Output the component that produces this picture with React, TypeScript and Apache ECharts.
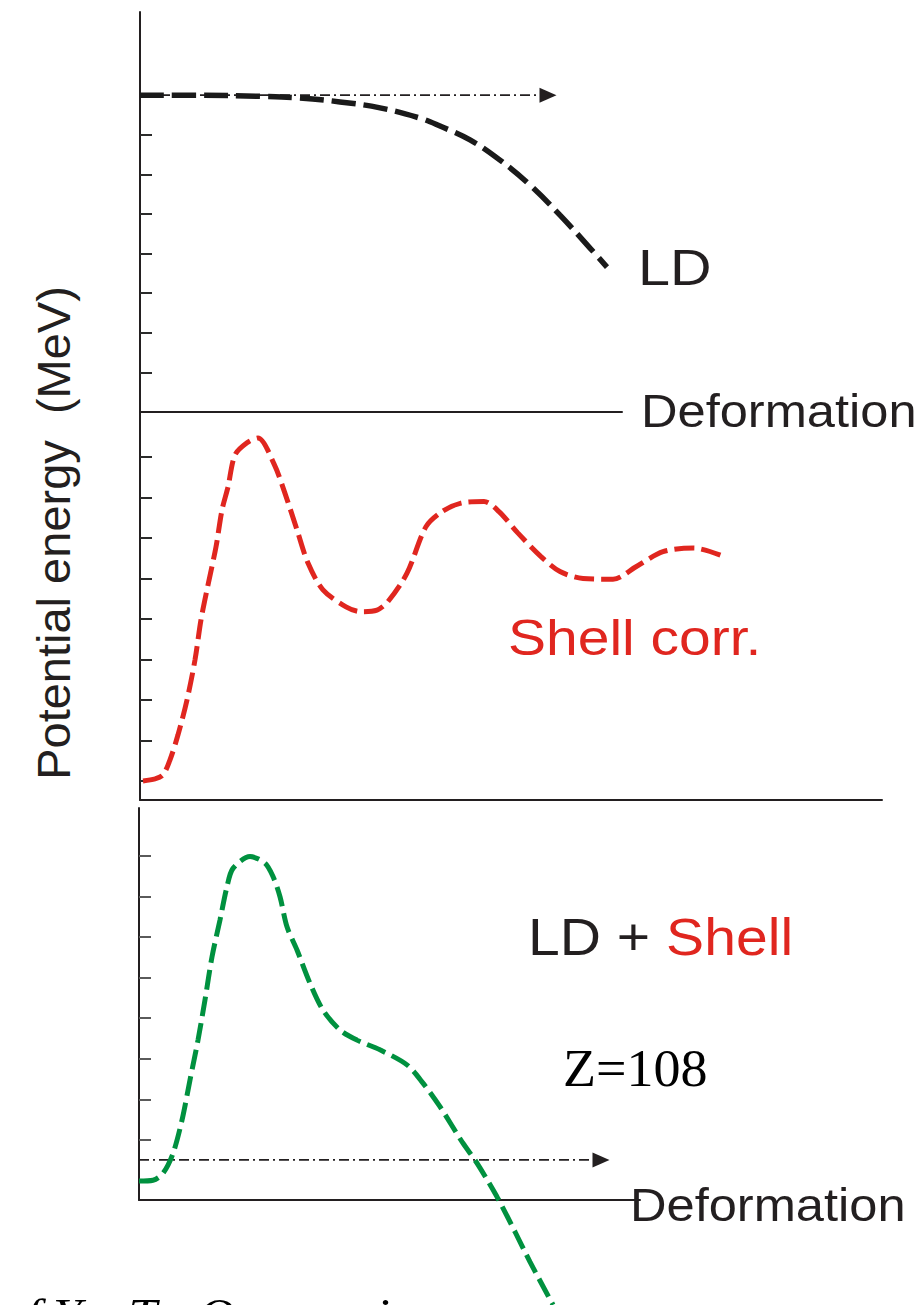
import React, { useEffect, useRef } from "react";
import * as echarts from "echarts";

// Deformation coordinate (arb. units) and potential energy (tick units) per panel.

// Panel 1 — liquid-drop (LD) energy
const ldX = [0, 0.6, 1.2, 1.6, 2.0, 2.4, 2.8, 3.0, 3.3, 3.6, 3.9, 4.2, 4.5, 4.67];
const ldY = [8.0, 8.0, 7.97, 7.93, 7.83, 7.68, 7.42, 7.22, 6.87, 6.36, 5.73, 4.97, 4.14, 3.66];
const ldRefX = [0, 4.08];
const ldRefY = [8.0, 8.0];

// Panel 2 — shell correction
const shellX = [
  0.03, 0.15, 0.23, 0.3, 0.38, 0.47, 0.55, 0.61, 0.68, 0.76, 0.82, 0.88, 0.95, 1.07, 1.18,
  1.34, 1.45, 1.57, 1.68, 1.83, 2.06, 2.21, 2.37, 2.48, 2.67, 2.86, 3.02, 3.21, 3.44, 3.59,
  3.78, 4.01, 4.2, 4.43, 4.73, 4.96, 5.23, 5.54, 5.84,
];
const shellY = [
  0.0, 0.05, 0.15, 0.52, 1.14, 2.0, 2.99, 3.98, 4.84, 5.78, 6.69, 7.26, 8.05, 8.35, 8.47,
  7.83, 7.1, 6.2, 5.38, 4.72, 4.3, 4.18, 4.22, 4.43, 5.13, 6.28, 6.65, 6.86, 6.9, 6.65,
  6.12, 5.54, 5.17, 5.0, 4.98, 5.29, 5.66, 5.75, 5.54,
];

// Panel 3 — LD + shell (Z = 108)
const totX = [
  0, 0.14, 0.24, 0.34, 0.43, 0.51, 0.59, 0.66, 0.73, 0.81, 0.88, 0.94, 1.11, 1.26, 1.34,
  1.41, 1.48, 1.58, 1.71, 1.84, 2.01, 2.18, 2.41, 2.68, 2.84, 3.01, 3.24, 3.38, 3.58, 3.76,
  3.91, 4.14,
];
const totY = [
  -1.01, -0.99, -0.82, -0.33, 0.49, 1.48, 2.46, 3.45, 4.51, 5.42, 6.24, 6.69, 6.98, 6.82, 6.49,
  5.99, 5.25, 4.68, 3.86, 3.2, 2.71, 2.46, 2.22, 1.85, 1.4, 0.82, -0.08, -0.57, -1.4, -2.26,
  -3.0, -4.06,
];
const totRefX = [0, 4.62];
const totRefY = [-0.49, -0.49];

// Tick positions on each energy axis
const ticks1 = [1, 2, 3, 4, 5, 6, 7, 8];
const ticks2 = [0, 1, 2, 3, 4, 5, 6, 7, 8];
const ticks3 = [0, 1, 2, 3, 4, 5, 6, 7];

const INK = "#231f20";
const RED = "#e0261f";
const GREEN = "#00913f";
const SANS = "'Liberation Sans', Arial, sans-serif";
const SERIF = "'Liberation Serif', 'Times New Roman', serif";

const pairs = (xs: number[], ys: number[]) => xs.map((x, i) => [x, ys[i]]);

const refLine = (xs: number[], ys: number[], idx: number) => ({
  type: "line",
  xAxisIndex: idx,
  yAxisIndex: idx,
  silent: true,
  z: 3,
  data: pairs(xs, ys).map((p, i, arr) =>
    i === arr.length - 1
      ? { value: p, symbol: "triangle", symbolRotate: -90, symbolSize: [15, 17] }
      : { value: p, symbol: "none" }
  ),
  showSymbol: true,
  itemStyle: { color: INK },
  lineStyle: { color: INK, width: 1.6, type: [10, 4, 2, 4] },
});

function axisPair(idx: number, xmax: number, ymin: number, ymax: number, ticks: number[], tickColor: string) {
  const x = {
    type: "value",
    gridIndex: idx,
    min: 0,
    max: xmax,
    axisLine: { show: true, onZero: false, lineStyle: { color: INK, width: 2 } },
    axisTick: { show: false },
    axisLabel: { show: false },
    splitLine: { show: false },
  };
  const y = {
    type: "value",
    gridIndex: idx,
    min: ymin,
    max: ymax,
    axisLine: { show: true, onZero: false, lineStyle: { color: INK, width: 2 } },
    axisTick: {
      show: true,
      inside: true,
      length: 12,
      customValues: ticks,
      lineStyle: { color: tickColor, width: 2 },
    },
    axisLabel: { show: false },
    splitLine: { show: false },
  };
  return { x, y };
}

const label = (text: string, x: number, y: number, font: string, fill: string, scaleX = 1) => ({
  type: "text",
  x,
  y,
  scaleX,
  z: 10,
  style: { text, font, fill, align: "left", verticalAlign: "middle" },
});

export default function App() {
  const ref = useRef<HTMLDivElement>(null);

  useEffect(() => {
    document.body.style.margin = "0";
    if (!ref.current) return;
    const chart = echarts.init(ref.current, undefined, { renderer: "svg" });

    const a1 = axisPair(0, 4.82, 0, 10.1, ticks1, "#2b2b2b");
    const a2 = axisPair(1, 7.42, -0.47, 9.11, ticks2, "#2b2b2b");
    const a3 = axisPair(2, 5.01, -1.478, 8.177, ticks3, "#5a5a5a");

    chart.setOption({
      animation: false,
      backgroundColor: "#ffffff",
      grid: [
        { left: 140, top: 12, width: 482, height: 400 },
        { left: 140, top: 412, width: 742, height: 388 },
        { left: 139, top: 808, width: 501, height: 392 },
      ],
      xAxis: [a1.x, a2.x, a3.x],
      yAxis: [a1.y, a2.y, a3.y],
      series: [
        refLine(ldRefX, ldRefY, 0),
        {
          name: "LD",
          type: "line",
          xAxisIndex: 0,
          yAxisIndex: 0,
          data: pairs(ldX, ldY),
          smooth: 0.4,
          showSymbol: false,
          z: 4,
          lineStyle: { color: "#1a1a1a", width: 5.5, type: [24, 8], cap: "butt" },
        },
        {
          name: "Shell corr.",
          type: "line",
          xAxisIndex: 1,
          yAxisIndex: 1,
          data: pairs(shellX, shellY),
          smooth: 0.3,
          showSymbol: false,
          lineStyle: { color: RED, width: 5, type: [20, 7], cap: "butt" },
        },
        refLine(totRefX, totRefY, 2),
        {
          name: "LD + Shell",
          type: "line",
          xAxisIndex: 2,
          yAxisIndex: 2,
          data: pairs(totX, totY),
          smooth: 0.3,
          showSymbol: false,
          clip: false,
          z: 4,
          lineStyle: { color: GREEN, width: 5, type: [20, 7], cap: "butt" },
        },
      ],
      graphic: [
        {
          type: "text",
          x: 53,
          y: 533,
          rotation: Math.PI / 2,
          style: {
            text: "Potential energy  (MeV)",
            font: `47px ${SANS}`,
            fill: INK,
            align: "center",
            verticalAlign: "middle",
          },
        },
        label("LD", 638, 267, `50px ${SANS}`, INK, 1.15),
        label("Deformation", 641, 411, `46px ${SANS}`, INK, 1.1),
        label("Shell corr.", 508, 637, `50px ${SANS}`, RED, 1.14),
        {
          type: "text",
          x: 528,
          y: 937,
          scaleX: 1.12,
          style: {
            text: "{a|LD + }{b|Shell}",
            align: "left",
            verticalAlign: "middle",
            rich: {
              a: { fontFamily: SANS, fontSize: 51, fill: INK },
              b: { fontFamily: SANS, fontSize: 51, fill: RED },
            },
          },
        },
        label("Z=108", 563, 1068, `53px ${SERIF}`, "#000000", 1.02),
        label("Deformation", 630, 1205, `46px ${SANS}`, INK, 1.1),
        {
          type: "text",
          x: 0,
          y: 1292,
          scaleX: 1.12,
          style: {
            text: "of Yu. Ts. Oganessian",
            font: `italic 46px ${SERIF}`,
            fill: "#000000",
            align: "left",
            verticalAlign: "top",
          },
        },
      ],
    });

    return () => chart.dispose();
  }, []);

  return <div ref={ref} style={{ width: 924, height: 1305 }} />;
}
